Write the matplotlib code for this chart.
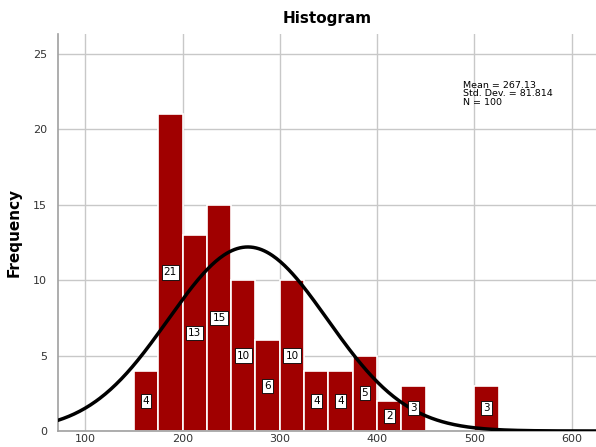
import numpy as np
import matplotlib.pyplot as plt

# histogram bins (width 25) and counts
bin_left = [150, 175, 200, 225, 250, 275, 300, 325, 350, 375, 400, 425, 450, 475, 500]
counts = [4, 21, 13, 15, 10, 6, 10, 4, 4, 5, 2, 3, 0, 0, 3]
bin_width = 25

mean = 267.13
std_dev = 81.814
n = 100

bar_color = "#a00000"

fig = plt.figure(figsize=(5.96, 4.47), dpi=100)
ax = fig.add_axes([0.0973, 0.0358, 0.9027, 0.8882])

for x0, c in zip(bin_left, counts):
    if c == 0:
        continue
    ax.bar(x0, c, width=bin_width, align="edge", color=bar_color,
           edgecolor="white", linewidth=1.2, zorder=2)
    ax.text(x0 + bin_width / 2, c / 2, str(c), ha="center", va="center",
            fontsize=7.5, zorder=4,
            bbox=dict(boxstyle="square,pad=0.2", fc="white", ec="black", lw=0.6))

# normal curve scaled to counts
xs = np.linspace(72, 625, 400)
ys = n * bin_width / (std_dev * np.sqrt(2 * np.pi)) * np.exp(-0.5 * ((xs - mean) / std_dev) ** 2)
ax.plot(xs, ys, color="black", linewidth=2.5, zorder=3)

ax.set_xlim(72, 625)
ax.set_ylim(0, 26.3)
ax.set_xticks([100, 200, 300, 400, 500, 600])
ax.set_yticks([0, 5, 10, 15, 20, 25])
ax.grid(True, color="#c8c8c8", linewidth=1.0, zorder=0)
ax.set_axisbelow(True)
for side in ["top", "right"]:
    ax.spines[side].set_visible(False)
for side in ["left", "bottom"]:
    ax.spines[side].set_color("#a0a0a0")
    ax.spines[side].set_linewidth(1.2)
ax.tick_params(length=0, labelsize=8, colors="#333333")
ax.tick_params(axis="y", pad=8)
ax.tick_params(axis="x", pad=2)

ax.set_ylabel("Frequency", fontsize=11, fontweight="bold", labelpad=8)
ax.set_title("Histogram", fontsize=11, fontweight="bold", pad=8)

ax.text(488, 23.2, "Mean = %.2f\nStd. Dev. = %.3f\nN = %d" % (mean, std_dev, n),
        fontsize=6.8, va="top", ha="left", linespacing=0.95)

plt.savefig("out.png", dpi=100)
